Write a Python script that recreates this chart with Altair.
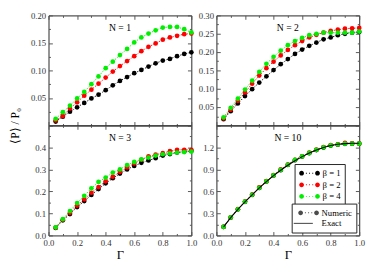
import altair as alt
import pandas as pd

FONT = "Liberation Serif"

gamma = [0.05, 0.10, 0.15, 0.20, 0.25, 0.30, 0.35, 0.40, 0.45, 0.50,
         0.55, 0.60, 0.65, 0.70, 0.75, 0.80, 0.85, 0.90, 0.95, 1.00]
betas = ["β = 1", "β = 2", "β = 4"]
beta_colors = ["#000000", "#ff0000", "#00ee00"]

N1_b1 = [0.007, 0.016, 0.025, 0.033, 0.041, 0.049, 0.056, 0.064, 0.073, 0.081,
         0.088, 0.095, 0.101, 0.107, 0.113, 0.118, 0.121, 0.126, 0.130, 0.133]
N1_b2 = [0.009, 0.017, 0.031, 0.042, 0.054, 0.065, 0.076, 0.087, 0.098, 0.108,
         0.117, 0.126, 0.135, 0.143, 0.149, 0.156, 0.160, 0.163, 0.166, 0.167]
N1_b4 = [0.012, 0.024, 0.036, 0.049, 0.061, 0.075, 0.089, 0.104, 0.116, 0.128,
         0.139, 0.151, 0.160, 0.167, 0.173, 0.178, 0.179, 0.179, 0.175, 0.169]

N2_b1 = [0.017, 0.039, 0.060, 0.080, 0.099, 0.117, 0.134, 0.151, 0.167, 0.181,
         0.195, 0.207, 0.217, 0.226, 0.235, 0.240, 0.246, 0.250, 0.253, 0.255]
N2_b2 = [0.019, 0.043, 0.067, 0.090, 0.114, 0.136, 0.156, 0.174, 0.191, 0.206,
         0.219, 0.230, 0.240, 0.247, 0.253, 0.258, 0.261, 0.264, 0.265, 0.266]
N2_b4 = [0.022, 0.048, 0.073, 0.098, 0.122, 0.146, 0.168, 0.187, 0.204, 0.219,
         0.230, 0.239, 0.246, 0.250, 0.253, 0.253, 0.253, 0.253, 0.253, 0.256]

N3_b1 = [0.034, 0.069, 0.097, 0.129, 0.156, 0.184, 0.211, 0.237, 0.260, 0.281,
         0.300, 0.316, 0.330, 0.341, 0.351, 0.363, 0.370, 0.377, 0.381, 0.384]
N3_b2 = [0.036, 0.071, 0.103, 0.136, 0.164, 0.194, 0.220, 0.246, 0.267, 0.289,
         0.309, 0.327, 0.344, 0.360, 0.367, 0.374, 0.383, 0.389, 0.389, 0.389]
N3_b4 = [0.037, 0.074, 0.111, 0.147, 0.180, 0.214, 0.243, 0.263, 0.286, 0.300,
         0.320, 0.334, 0.346, 0.354, 0.363, 0.369, 0.373, 0.377, 0.379, 0.381]

N10_b1 = [0.116, 0.244, 0.356, 0.459, 0.553, 0.648, 0.737, 0.819, 0.889, 0.962,
          1.027, 1.076, 1.121, 1.164, 1.199, 1.225, 1.238, 1.250, 1.251, 1.252]
N10_b2 = [0.118, 0.246, 0.358, 0.462, 0.556, 0.655, 0.740, 0.822, 0.900, 0.966,
          1.031, 1.080, 1.130, 1.172, 1.206, 1.232, 1.243, 1.262, 1.255, 1.253]
N10_b4 = [0.117, 0.245, 0.357, 0.460, 0.555, 0.650, 0.738, 0.820, 0.893, 0.964,
          1.029, 1.078, 1.125, 1.168, 1.202, 1.228, 1.240, 1.252, 1.253, 1.253]
N10_exact = [0.116, 0.243, 0.355, 0.458, 0.554, 0.648, 0.735, 0.815, 0.889, 0.957,
             1.019, 1.075, 1.124, 1.166, 1.200, 1.226, 1.243, 1.252, 1.256, 1.257]

series = {1: [N1_b1, N1_b2, N1_b4], 2: [N2_b1, N2_b2, N2_b4],
          3: [N3_b1, N3_b2, N3_b4], 10: [N10_b1, N10_b2, N10_b4]}

rows = []
for n, lists in series.items():
    for b, vals in zip(betas, lists):
        for g, v in zip(gamma, vals):
            rows.append({"N": n, "beta": b, "gamma": g, "value": v})
df = pd.DataFrame(rows)
exact_df = pd.DataFrame({"gamma": gamma, "value": N10_exact})
dummy_df = pd.DataFrame({"kind": ["Numeric", "Exact"], "gamma": [-5, -5], "value": [-5, -5]})


def circ(cx, r):
    return f"M{cx - r},0 A{r},{r} 0 1,0 {cx + r},0 A{r},{r} 0 1,0 {cx - r},0 Z "


def dot(cx, r):
    return f"M{cx - r},{-r} L{cx + r},{-r} L{cx + r},{r} L{cx - r},{r} Z "


NUM_PATH = circ(-1.5, 0.45) + circ(1.5, 0.45) + dot(-0.6, 0.09) + dot(0, 0.09) + dot(0.6, 0.09)
EXACT_PATH = "M-2.8,-0.1 L0.8,-0.1 L0.8,0.1 L-2.8,0.1 Z"

W, H = 148, 114
XMAJ = [0, 0.2, 0.4, 0.6, 0.8, 1.0]
XMIN = [0.1, 0.3, 0.5, 0.7, 0.9]
TICK = "#555555"


def axis(orient, vals, size, labels=False, **kw):
    return alt.Axis(orient=orient, values=vals, tickSize={"expr": str(-size)},
                    labels=labels, domain=False, grid=False, tickColor=TICK,
                    tickWidth=1, labelFlush=False, labelOverlap=False, **kw)


def panel(n, ydom, ymaj, ymin, label_expr, bottom, first=False, legend=False):
    d = df[df.N == n]
    xs = alt.Scale(domain=[0, 1], nice=False, zero=False)
    ys = alt.Scale(domain=ydom, nice=False, zero=False)
    cscale = alt.Scale(domain=betas, range=beta_colors)

    xkw = dict(labelExpr="format(datum.value, '.1f')", labelPadding=7)
    if bottom:
        xkw.update(title="Γ", titleFont=FONT, titleFontSize=13, titleFontWeight="normal",
                   titlePadding=2, titleColor="black")
    else:
        xkw.update(title=None)
    ykw = dict(labelExpr=label_expr, labelPadding=7)
    if first:
        ykw.update(title="⟨P⟩ / P₀", titleFont=FONT, titleFontSize=12,
                   titleFontWeight="normal", titleColor="black",
                   titleX=-28, titleY=H, titleAlign="center", titleBaseline="bottom",
                   titleAngle=-90)
    else:
        ykw.update(title=None)

    layers = []
    for i, (b, c) in enumerate(zip(betas, beta_colors)):
        if i == 0:
            xe = alt.X("gamma:Q", scale=xs, axis=axis("bottom", XMAJ, 4, labels=bottom, **xkw))
            ye = alt.Y("value:Q", scale=ys, axis=axis("left", ymaj, 4, labels=True, **ykw))
        else:
            xe = alt.X("gamma:Q", scale=xs, axis=None)
            ye = alt.Y("value:Q", scale=ys, axis=None)
        layers.append(alt.Chart(d[d.beta == b]).mark_line(
            color=c, strokeDash=[1.5, 1.5], strokeWidth=0.9).encode(x=xe, y=ye))

    if legend:
        leg = alt.Legend(orient="none", legendX=81, legendY=40, title=None,
                         symbolType=NUM_PATH, symbolSize=121, symbolOffset=6,
                         symbolStrokeWidth=0, labelOffset=8, strokeColor="#222",
                         fillColor="white", padding=4, rowPadding=1,
                         labelExpr="datum.label + '\u2007\u2007\u2007'",
                         labelFont=FONT, labelFontSize=9, labelColor="black")
    else:
        leg = None
    pts = alt.Chart(d).mark_circle(size=24, opacity=1).encode(
        x=alt.X("gamma:Q", scale=xs, axis=axis("bottom", XMIN, 2, title=None)),
        y=alt.Y("value:Q", scale=ys, axis=axis("left", ymin, 2, title=None)),
        color=alt.Color("beta:N", scale=cscale, legend=leg),
        order=alt.Order("beta:N"),
    )
    mir1 = alt.Chart(d).mark_point(opacity=0).encode(
        x=alt.X("gamma:Q", scale=xs, axis=axis("top", XMAJ, 4, title=None)),
        y=alt.Y("value:Q", scale=ys, axis=axis("right", ymaj, 4, title=None)),
    )
    mir2 = alt.Chart(d).mark_point(opacity=0).encode(
        x=alt.X("gamma:Q", scale=xs, axis=axis("top", XMIN, 2, title=None)),
        y=alt.Y("value:Q", scale=ys, axis=axis("right", ymin, 2, title=None)),
    )
    lab = alt.Chart(pd.DataFrame({"t": [f"N = {n}"]})).mark_text(
        font=FONT, fontSize=10, color="black").encode(
        x=alt.value(W / 2), y=alt.value(13), text="t:N")
    layers += [pts, mir1, mir2]
    if legend:
        exact = alt.Chart(exact_df).mark_line(color="black", strokeWidth=1.1).encode(
            x=alt.X("gamma:Q", scale=xs, axis=None),
            y=alt.Y("value:Q", scale=ys, axis=None))
        dummy = alt.Chart(dummy_df).mark_point(filled=True, color="black", clip=True).encode(
            x=alt.X("gamma:Q", scale=xs, axis=None),
            y=alt.Y("value:Q", scale=ys, axis=None),
            shape=alt.Shape("kind:N", scale=alt.Scale(domain=["Numeric", "Exact"],
                                                      range=[NUM_PATH, EXACT_PATH]),
                            legend=alt.Legend(orient="none", legendX=78, legendY=81,
                                              title=None, symbolSize=121, symbolOffset=8,
                                              symbolFillColor="black", symbolStrokeWidth=0,
                                              labelOffset=8, strokeColor="#222",
                                              fillColor="white", padding=4, rowPadding=0,
                                              labelExpr="datum.label + '\u2007\u2007'",
                                              labelFont=FONT, labelFontSize=9,
                                              labelColor="black")))
        layers += [exact, dummy]
    layers.append(lab)
    return alt.layer(*layers).properties(width=W, height=H).resolve_axis(
        x="independent", y="independent")


p1 = panel(1, [0, 0.2], [0, 0.05, 0.1, 0.15, 0.2],
           [0.025, 0.075, 0.125, 0.175],
           "datum.value < 0.001 ? '' : format(datum.value, '.2f')", False, first=True)
p2 = panel(2, [0, 0.3], [0, 0.05, 0.1, 0.15, 0.2, 0.25, 0.3],
           [0.025, 0.075, 0.125, 0.175, 0.225, 0.275],
           "datum.value < 0.001 ? '' : format(datum.value, '.2f')", False)
p3 = panel(3, [0, 0.5], [0, 0.1, 0.2, 0.3, 0.4, 0.5],
           [0.05, 0.15, 0.25, 0.35, 0.45],
           "datum.value > 0.45 ? '' : format(datum.value, '.1f')", True)
p4 = panel(10, [0, 1.5], [0, 0.3, 0.6, 0.9, 1.2, 1.5],
           [0.15, 0.45, 0.75, 1.05, 1.35],
           "datum.value > 1.4 ? '' : format(datum.value, '.1f')", True, legend=True)

chart = alt.concat(p1, p2, p3, p4, columns=2, spacing={"row": 0, "column": 26},
                   bounds="flush").resolve_scale(
    color="independent", shape="independent").resolve_legend(
    color="independent", shape="independent").properties(
    padding={"left": 0, "top": -2, "right": 0, "bottom": 0}).configure(
    background="white").configure_view(
    stroke="#222222", strokeWidth=1).configure_axis(
    labelFont=FONT, labelFontSize=9, labelColor="#333333")

chart.save("out.html", embed_options={"renderer": "svg", "actions": False})
